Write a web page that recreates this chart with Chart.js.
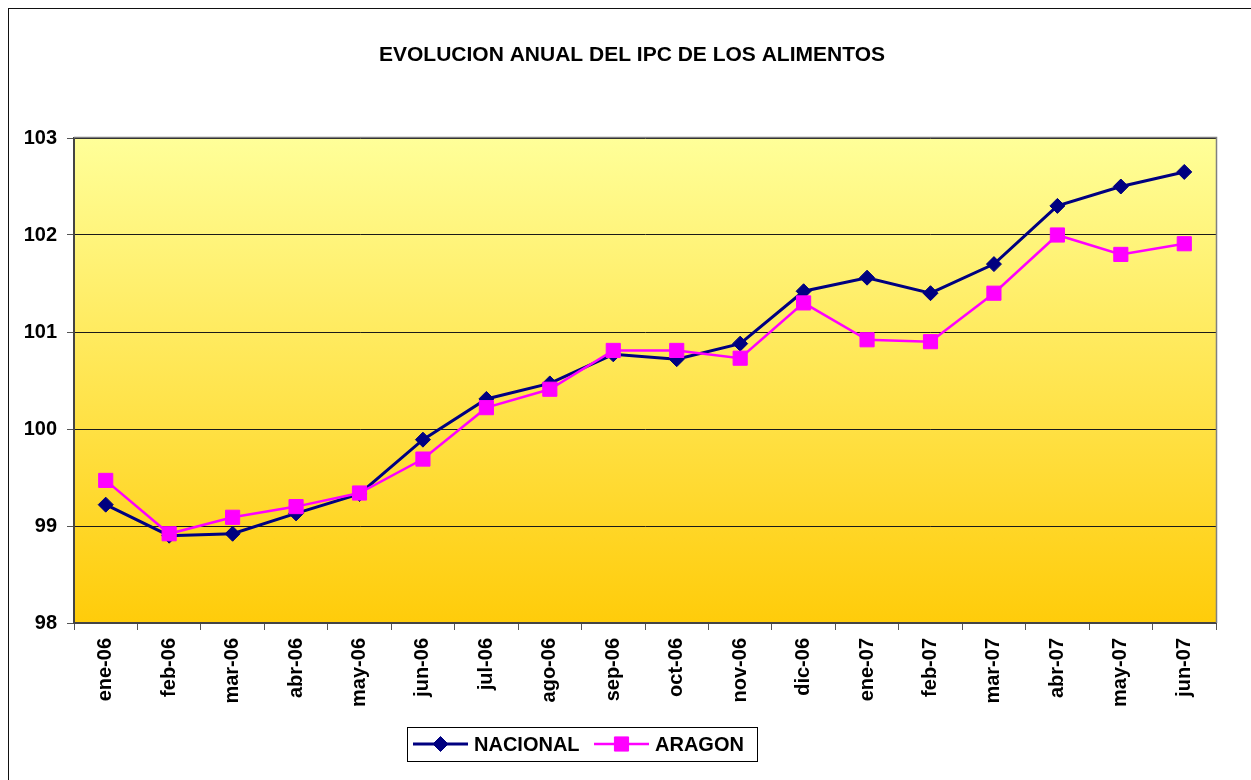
<!DOCTYPE html>
<html>
<head>
<meta charset="utf-8">
<title>IPC alimentos</title>
<script src="https://cdn.jsdelivr.net/npm/chart.js@4/dist/chart.umd.min.js"></script>
<style>
  html, body { margin: 0; padding: 0; background: #fff; overflow: hidden; }
  canvas { display: block; }
</style>
</head>
<body>
<canvas id="grafico" width="1251" height="780"></canvas>
<script>
// meses
var MESES = ['ene-06', 'feb-06', 'mar-06', 'abr-06', 'may-06', 'jun-06', 'jul-06', 'ago-06', 'sep-06',
  'oct-06', 'nov-06', 'dic-06', 'ene-07', 'feb-07', 'mar-07', 'abr-07', 'may-07', 'jun-07'];

// indice nacional
var NACIONAL = [99.22, 98.90, 98.92, 99.13, 99.33, 99.89, 100.31, 100.47, 100.77,
  100.72, 100.88, 101.42, 101.56, 101.40, 101.70, 102.30, 102.50, 102.65];

// indice Aragon
var ARAGON = [99.47, 98.92, 99.09, 99.20, 99.34, 99.69, 100.22, 100.41, 100.81,
  100.81, 100.73, 101.30, 100.92, 100.90, 101.40, 102.00, 101.80, 101.91];

var TITULO = 'EVOLUCION ANUAL DEL IPC DE LOS ALIMENTOS';
var FUENTE = "'Liberation Sans', Arial, sans-serif";

// fondo degradado del area de trazado + marco exterior
var fondoPlugin = {
  id: 'fondo',
  beforeDraw: function (chart) {
    var ctx = chart.ctx;
    var a = chart.chartArea;
    ctx.save();
    // marco del grafico
    ctx.strokeStyle = '#111';
    ctx.lineWidth = 1;
    ctx.strokeRect(8.5, 8.5, 1300, 1000);
    var grad = ctx.createLinearGradient(0, a.top, 0, a.bottom);
    grad.addColorStop(0, '#FFFF99');
    grad.addColorStop(1, '#FFCC0A');
    ctx.fillStyle = grad;
    ctx.fillRect(a.left, a.top, a.right - a.left, a.bottom - a.top);
    ctx.restore();
  },
  afterDatasetsDraw: function (chart) {
    var ctx = chart.ctx;
    var a = chart.chartArea;
    ctx.save();
    ctx.strokeStyle = '#808080';
    ctx.lineWidth = 1.5;
    ctx.beginPath();
    ctx.moveTo(a.left, a.top - 0.5);
    ctx.lineTo(a.right + 0.5, a.top - 0.5);
    ctx.lineTo(a.right + 0.5, a.bottom);
    ctx.stroke();
    ctx.restore();
  }
};

// titulo y leyenda
var textoPlugin = {
  id: 'textos',
  afterDraw: function (chart) {
    var ctx = chart.ctx;
    ctx.save();
    ctx.fillStyle = '#000';
    ctx.font = 'bold 21px ' + FUENTE;
    ctx.textAlign = 'center';
    ctx.textBaseline = 'alphabetic';
    ctx.fillText(TITULO, 632, 61);

    // caja de la leyenda
    var bx = 407, by = 727, bw = 350, bh = 34;
    ctx.fillStyle = '#fff';
    ctx.fillRect(bx, by, bw, bh);
    ctx.strokeStyle = '#000';
    ctx.lineWidth = 1;
    ctx.strokeRect(bx + 0.5, by + 0.5, bw, bh);

    var cy = by + bh / 2;
    var items = [
      { ds: chart.data.datasets[0], x: 413 },
      { ds: chart.data.datasets[1], x: 594 }
    ];
    items.forEach(function (it) {
      var ds = it.ds;
      ctx.strokeStyle = ds.borderColor;
      ctx.lineWidth = ds.borderWidth;
      ctx.beginPath();
      ctx.moveTo(it.x, cy);
      ctx.lineTo(it.x + 55, cy);
      ctx.stroke();
      ctx.fillStyle = ds.pointBackgroundColor;
      ctx.strokeStyle = ds.pointBorderColor;
      ctx.lineWidth = 1;
      Chart.helpers.drawPoint(ctx, {
        pointStyle: ds.pointStyle,
        radius: ds.pointRadius,
        rotation: 0,
        borderWidth: 1
      }, it.x + 27.5, cy);
      ctx.fillStyle = '#000';
      ctx.font = 'bold 20px ' + FUENTE;
      ctx.textAlign = 'left';
      ctx.textBaseline = 'middle';
      ctx.fillText(ds.label, it.x + 61, cy + 1);
    });
    ctx.restore();
  }
};

var ctx = document.getElementById('grafico').getContext('2d');

new Chart(ctx, {
  type: 'line',
  data: {
    labels: MESES,
    datasets: [{
      label: 'NACIONAL',
      data: NACIONAL,
      borderColor: '#000080',
      borderWidth: 3,
      pointStyle: 'rectRot',
      pointRadius: 7.5,
      pointBackgroundColor: '#000080',
      pointBorderColor: '#000080',
      pointBorderWidth: 1,
      tension: 0,
      order: 1
    }, {
      label: 'ARAGON',
      data: ARAGON,
      borderColor: '#FF00FF',
      borderWidth: 2.5,
      pointStyle: 'rect',
      pointRadius: 10,
      pointBackgroundColor: '#FF00FF',
      pointBorderColor: '#FF00FF',
      pointBorderWidth: 1,
      tension: 0,
      order: 0
    }]
  },
  options: {
    responsive: false,
    animation: false,
    layout: { padding: { left: 0, top: 138, right: 35, bottom: 0 } },
    plugins: {
      legend: { display: false },
      title: { display: false },
      tooltip: { enabled: false }
    },
    scales: {
      x: {
        offset: true,
        afterFit: function (scale) { scale.height = 157; },
        grid: {
          offset: true,
          drawOnChartArea: false,
          drawTicks: true,
          tickLength: 7,
          tickColor: '#555'
        },
        border: { color: '#444', width: 2 },
        ticks: {
          minRotation: 90,
          maxRotation: 90,
          padding: 8,
          color: '#000',
          font: { family: FUENTE, size: 20, weight: 'bold' }
        }
      },
      y: {
        min: 98,
        max: 103,
        afterFit: function (scale) { scale.width = 74; },
        grid: {
          color: '#1a1a1a',
          lineWidth: 1,
          tickLength: 7,
          tickColor: '#555'
        },
        border: { color: '#444', width: 2 },
        ticks: {
          stepSize: 1,
          padding: 10,
          color: '#000',
          font: { family: FUENTE, size: 20, weight: 'bold' }
        }
      }
    }
  },
  plugins: [fondoPlugin, textoPlugin]
});
</script>
</body>
</html>
